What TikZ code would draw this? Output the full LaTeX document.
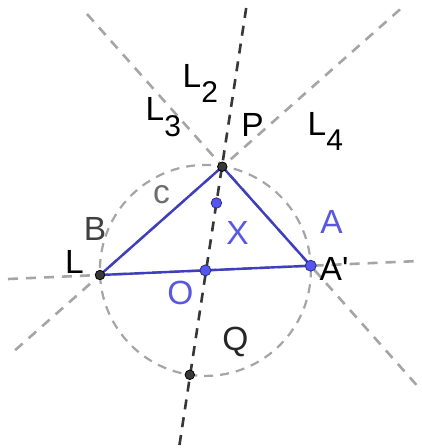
\documentclass[tikz,border=0pt]{standalone}
\usepackage{fontspec}
\setmainfont{Liberation Sans}
\newfontfamily\lbf{Liberation Sans}
\definecolor{glines}{RGB}{165,165,165}
\definecolor{dline}{RGB}{55,55,55}
\definecolor{tri}{RGB}{62,62,190}
\definecolor{bpt}{RGB}{85,85,240}
\definecolor{blbl}{RGB}{88,88,225}
\definecolor{clbl}{RGB}{110,110,110}
\tikzset{
  gline/.style={draw=glines, line width=2.6pt, dash pattern=on 10pt off 8pt},
  dkline/.style={draw=dline, line width=2.6pt, dash pattern=on 10pt off 8pt},
  circline/.style={draw=glines, line width=2.2pt, dash pattern=on 9pt off 7pt},
  triline/.style={draw=tri, line width=2.4pt, line join=round},
  bkpt/.style={circle, fill=black!78, draw=black, line width=0.8pt, inner sep=0pt, minimum size=9.5pt},
  blpt/.style={circle, fill=bpt, draw=tri!70!black, line width=0.8pt, inner sep=0pt, minimum size=11pt},
  lbl/.style={inner sep=0pt, font=\lbf\fontsize{33.5}{33.5}\selectfont},
}
\newcommand{\subf}{\fontsize{30}{30}\selectfont}
\begin{document}
\begin{tikzpicture}[x=1pt,y=-1pt]
\useasboundingbox (0,0) rectangle (422,448);
% geometry
\coordinate (p) at (222.3,166.7);
\coordinate (l) at (100,275);
\coordinate (a) at (310.7,265.7);
\coordinate (o) at (205.4,270.4);
\coordinate (q) at (189.8,374.8);
\coordinate (x) at (216.4,203);
% free ends of the lines
\coordinate (pqtop) at (246.2,8);
\coordinate (pqbot) at (179,448);
\coordinate (patl) at (87,14);
\coordinate (pabr) at (421,390);
\coordinate (lptr) at (400,9.4);
\coordinate (lpbl) at (10,354.7);
\coordinate (lal) at (8,279);
\coordinate (lar) at (421,260.9);
% lines
\draw[circline] (o) circle[radius=105.5pt];
\draw[gline] (patl) -- (pabr);
\draw[gline] (lptr) -- (lpbl);
\draw[gline] (lal) -- (lar);
\draw[dkline] (pqtop) -- (pqbot);
% triangle
\draw[triline] (p) -- (l) -- (a) -- cycle;
% points
\node[bkpt] (P) at (p) {};
\node[bkpt] (L) at (l) {};
\node[bkpt] (Q) at (q) {};
\node[blpt] (A) at (a) {};
\node[blpt] (O) at (o) {};
\node[blpt, minimum size=10.5pt] (X) at (x) {};
% labels
\node[lbl, anchor=base west] (l2lbl) at (182.5,87) {L\lower15pt\hbox{\subf 2}};
\node[lbl, anchor=base west] (l3lbl) at (145.5,120) {L\lower16pt\hbox{\subf 3}};
\node[lbl, anchor=base west] (l4lbl) at (307.5,135) {L\lower15pt\hbox{\subf 4}};
\node[lbl] (plbl) at (252.5,124.5) {P};
\node[lbl, text=clbl] (clbl) at (161.5,195) {c};
\node[lbl, text=black!75] (blbl) at (95,229) {B};
\node[lbl] (llbl) at (74.5,261.5) {L};
\node[lbl, text=blbl] (xlbl) at (237.5,232.5) {X};
\node[lbl, text=blbl] (albl) at (331.5,222) {A};
\node[lbl, anchor=base west] (aplbl) at (319.5,280.5) {A'};
\node[lbl, text=blbl] (olbl) at (180.5,292.5) {O};
\node[lbl, text=black!85] (qlbl) at (235.5,341.5) {Q};
\end{tikzpicture}
\end{document}
